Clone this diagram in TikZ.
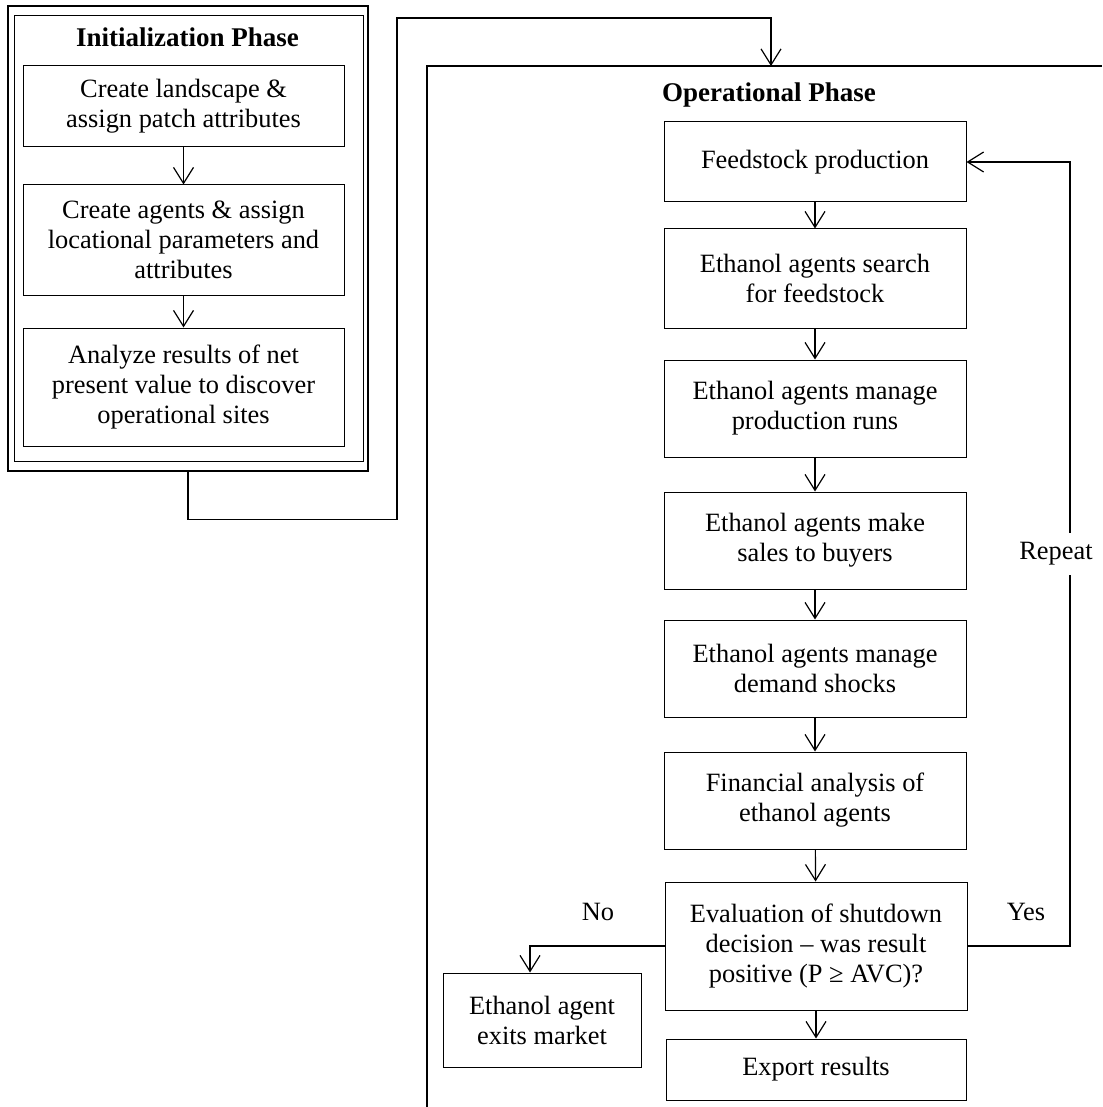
\documentclass[tikz,border=0pt]{standalone}
\usepackage{fontspec}
\setmainfont{Liberation Serif}
\usetikzlibrary{arrows.meta}

\begin{document}
\begin{tikzpicture}[x=0.5pt,y=-0.5pt,
  font=\fontsize{13.2}{15}\selectfont,
  box/.style={draw,line width=0.5pt,align=center,inner sep=0pt},
  title/.style={font=\fontsize{13.5}{15}\selectfont\bfseries},
  arr/.style={line width=0.6pt,-{Straight Barb[length=8pt,width=10pt]}}]
\useasboundingbox (0,0) rectangle (1102,1107);

\node[draw,line width=0.8pt,minimum width=180pt,minimum height=232.5pt] (initframe) at (188,238.5) {};
\node[draw,line width=0.5pt,minimum width=174.5pt,minimum height=222.5pt] (initinner) at (188.5,238.5) {};
\node[title] (inittitle) at (187.5,37) {Initialization Phase};
\node[box,minimum width=160.5pt,minimum height=40.5pt] (land) at (183.5,106.5) {Create landscape \&\\assign patch attributes};
\node[box,minimum width=160.5pt,minimum height=55pt] (agents) at (183.5,240) {Create agents \& assign\\locational parameters and\\attributes};
\node[box,minimum width=160.5pt,minimum height=59pt] (npv) at (183.5,387) {Analyze results of net\\present value to discover\\operational sites};
\draw[arr] (land) -- (agents);
\draw[arr] (agents) -- (npv);

\draw[line width=0.8pt] (427,1107) -- (427,66) -- (1102,66);
\coordinate (optop) at (771,66);
\draw[arr] (initframe.south) -- ++(0,48) -| (397,18) -| (optop);
\node[title] (optitle) at (769,95) {Operational Phase};

\node[box,minimum width=151pt,minimum height=40pt] (feed) at (815,162) {Feedstock production};
\node[box,minimum width=151pt,minimum height=49.5pt] (search) at (815,278.5) {Ethanol agents search\\for feedstock};
\node[box,minimum width=151pt,minimum height=48.5pt] (runs) at (815,408.5) {Ethanol agents manage\\production runs};
\node[box,minimum width=151pt,minimum height=48.5pt] (sales) at (815,540.5) {Ethanol agents make\\sales to buyers};
\node[box,minimum width=151pt,minimum height=48.5pt] (shocks) at (815,668.5) {Ethanol agents manage\\demand shocks};
\node[box,minimum width=151pt,minimum height=48.5pt] (fin) at (815,800.5) {Financial analysis of\\ethanol agents};
\node[box,minimum width=151pt,minimum height=64pt] (eval) at (816,946) {Evaluation of shutdown\\decision -- was result\\positive (P ≥ AVC)?};
\node[box,minimum width=150pt,minimum height=30.5pt] (export) at (816,1069.5) {Export results};
\node[box,minimum width=99pt,minimum height=47pt] (exit) at (542,1020) {Ethanol agent\\exits market};
\foreach \a/\b in {feed/search,search/runs,runs/sales,sales/shocks,shocks/fin,fin/eval,eval/export}
  \draw[arr] (\a) -- (\b);

\draw[arr] (eval.west) -| ([xshift=-6pt]exit.north);
\node (nolabel) at (598,912) {No};
\coordinate (loop) at (1070,946);
\draw[arr] (eval.east) -- (loop) |- node[pos=0.25,fill=white,xshift=-7pt,inner xsep=1pt,inner ysep=5pt] (repeatlabel) {Repeat} (feed.east);
\node (yeslabel) at (1026,912) {Yes};
\end{tikzpicture}
\end{document}
